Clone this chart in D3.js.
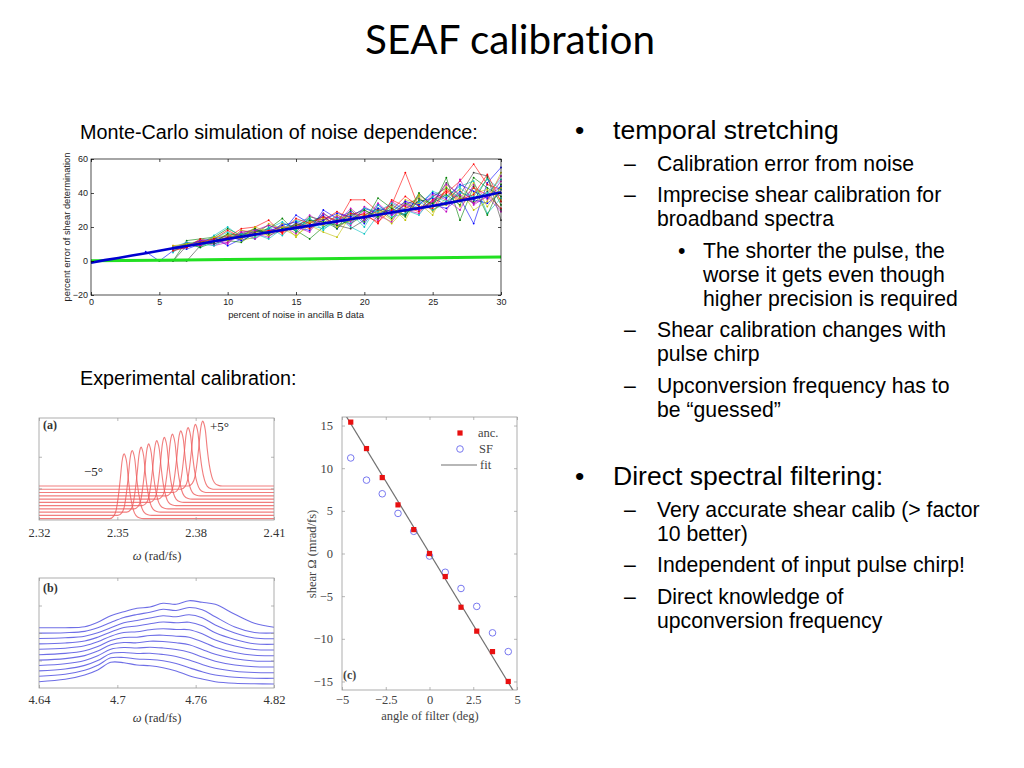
<!DOCTYPE html>
<html>
<head>
<meta charset="utf-8">
<script src="https://cdn.jsdelivr.net/npm/d3@7"></script>
<style>
  body { margin: 0; background: #fff; }
  svg { display: block; }
  text { font-variant-ligatures: none; font-feature-settings: "liga" 0, "clig" 0; }
</style>
</head>
<body>
<svg id="slide" width="1024" height="768"></svg>
<script>
// ---------- Monte-Carlo panel ----------
const mcXTicks = [0, 5, 10, 15, 20, 25, 30];
const mcYTicks = [-20, 0, 20, 40, 60];
// matlab default colour order
const mcColors = ["#0000ff", "#008000", "#ff0000", "#00bfbf", "#bf00bf", "#bfbf00", "#404040"];
// first noise value of each run
const mcStart = [4, 5, 6, 6, 6, 6, 6, 6, 6, 6, 6, 6, 6, 6, 6, 6, 6, 6, 6, 6];
const mcRuns = [
  [5.5, 0, 6, 9, 11, 10, 13, 16, 15, 19, 17, 27, 22, 27, 19, 26, 31, 28, 30, 27, 39, 33, 31, 37, 22, 46, 55],
  [0, 0, 12, 13, 14, 19, 15, 18, 17, 20, 18, 13, 20, 24, 22, 27, 31, 25, 34, 30, 38, 43, 37, 35, 49, 33],
  [8, 10, 9, 12, 15, 13, 17, 18, 17, 21, 20, 25, 22, 36, 36, 29, 33, 52, 31, 35, 40, 47, 57, 45, 42],
  [5, 11, 8, 13, 17, 14, 13, 20, 15, 23, 25, 18, 26, 20, 16, 27, 32, 29, 33, 41, 38, 44, 47, 28, 37],
  [7, 8, 12, 9, 11, 18, 16, 14, 21, 16, 24, 21, 27, 23, 29, 24, 35, 30, 28, 36, 29, 48, 33, 38, 50],
  [6, 10, 12, 11, 16, 12, 14, 22, 19, 15, 21, 17, 14, 27, 25, 30, 24, 36, 34, 27, 44, 32, 40, 42, 36],
  [0, 0, 9, 12, 14, 16, 19, 15, 18, 20, 23, 26, 21, 19, 24, 30, 28, 33, 37, 30, 35, 39, 52, 50, 24],
  [8, 7, 10, 14, 9, 13, 18, 16, 22, 20, 18, 30, 25, 29, 22, 33, 27, 31, 35, 37, 33, 41, 36, 34, 40],
  [7, 9, 11, 13, 12, 11, 17, 19, 25, 17, 26, 24, 19, 30, 23, 37, 31, 26, 40, 32, 49, 24, 44, 27, 45],
  [9, 8, 13, 11, 14, 19, 20, 24, 16, 22, 19, 24, 29, 25, 28, 22, 36, 32, 29, 36, 41, 35, 43, 39, 31],
  [6, 9, 10, 15, 20, 14, 16, 13, 19, 24, 21, 19, 23, 28, 20, 33, 26, 28, 35, 30, 34, 40, 38, 48, 42],
  [7, 11, 9, 12, 10, 17, 13, 18, 20, 19, 27, 22, 26, 21, 32, 27, 23, 35, 30, 39, 36, 30, 45, 36, 47],
  [7, 10, 11, 14, 12, 18, 17, 15, 22, 14, 23, 25, 20, 24, 27, 29, 22, 31, 38, 29, 37, 42, 30, 35, 52],
  [0, 9, 12, 10, 13, 15, 17, 21, 18, 22, 20, 28, 23, 27, 30, 25, 33, 29, 31, 34, 46, 38, 34, 41, 30],
  [8, 9, 12, 13, 15, 12, 16, 17, 21, 23, 20, 24, 28, 26, 25, 31, 29, 35, 33, 40, 37, 45, 41, 37, 44],
  [7, 10, 8, 11, 16, 15, 19, 16, 19, 21, 24, 23, 21, 24, 30, 26, 31, 27, 36, 34, 39, 33, 49, 43, 38],
  [6, 8, 11, 13, 18, 14, 15, 18, 17, 25, 22, 26, 24, 28, 27, 23, 30, 38, 32, 31, 42, 36, 39, 51, 35],
  [8, 11, 10, 9, 13, 16, 14, 19, 23, 18, 25, 20, 25, 22, 31, 29, 34, 30, 27, 38, 35, 43, 37, 40, 48],
  [7, 9, 12, 12, 11, 17, 18, 21, 18, 20, 17, 28, 22, 31, 24, 34, 27, 33, 30, 35, 45, 39, 34, 38, 29],
  [9, 10, 10, 14, 15, 13, 20, 17, 20, 19, 23, 21, 27, 24, 26, 28, 32, 24, 39, 32, 33, 37, 46, 32, 43]
];
// mean error, noise 0..30
const mcMean = [-1, 0.5, 1.8, 3.2, 4.6, 6.0, 7.5, 8.8, 10.2, 11.6, 13.0, 14.3, 15.6, 16.9, 18.2, 19.5,
  20.8, 22.1, 23.3, 24.6, 25.9, 27.2, 28.5, 29.8, 31.1, 32.4, 33.9, 35.4, 37.0, 38.7, 40.5];
const mcLowX = [0, 5, 10, 15, 20, 25, 30];
const mcLow = [0.2, 0.5, 0.9, 1.2, 1.6, 1.9, 2.3];

// ---------- panel (a): ancilla spectra ----------
const aXTicks = [2.32, 2.35, 2.38, 2.41];
const aCenters = [2.3526, 2.3557, 2.3591, 2.3620, 2.3651, 2.3680, 2.3711, 2.3743, 2.3771, 2.3799, 2.3827];
const aOffsets = [0.013, 0.045, 0.077, 0.109, 0.141, 0.173, 0.205, 0.237, 0.269, 0.301, 0.333];
const aAmp = 0.637;
const aProfileDx = [-0.0055, -0.004, -0.003, -0.0022, -0.0015, -0.0008, -0.0003, 0, 0.0004, 0.001, 0.0017, 0.0025, 0.0035, 0.0045, 0.006, 0.0075];
const aProfile = [0, 0.04, 0.14, 0.35, 0.6, 0.88, 0.98, 1, 0.97, 0.86, 0.58, 0.33, 0.14, 0.05, 0.01, 0];

// ---------- panel (b): filtered spectra ----------
const bXTicks = [4.64, 4.7, 4.76, 4.82];
const bX = [4.64, 4.66, 4.675, 4.685, 4.695, 4.705, 4.715, 4.725, 4.735, 4.745, 4.755, 4.765, 4.775, 4.79, 4.805, 4.82];
const bCurves = [
  [0.63, 0.87, 1.30, 1.80, 2.57, 2.53, 2.30, 2.23, 2.03, 1.70, 1.23, 0.90, 0.63, 0.47, 0.42, 0.40],
  [1.17, 1.38, 1.78, 2.28, 3.02, 3.05, 2.90, 2.85, 2.72, 2.45, 2.02, 1.62, 1.30, 1.08, 0.98, 0.97],
  [1.71, 1.90, 2.26, 2.75, 3.45, 3.55, 3.45, 3.48, 3.35, 3.15, 2.80, 2.35, 1.98, 1.68, 1.55, 1.53],
  [2.25, 2.42, 2.75, 3.22, 3.88, 4.05, 4.00, 4.08, 4.00, 3.85, 3.58, 3.10, 2.68, 2.30, 2.12, 2.10],
  [2.79, 2.94, 3.24, 3.70, 4.32, 4.55, 4.52, 4.68, 4.65, 4.52, 4.33, 3.85, 3.38, 2.92, 2.70, 2.67],
  [3.33, 3.46, 3.73, 4.15, 4.75, 5.05, 5.08, 5.25, 5.28, 5.18, 5.08, 4.62, 4.08, 3.55, 3.27, 3.23],
  [3.87, 3.98, 4.22, 4.62, 5.18, 5.55, 5.62, 5.82, 5.92, 5.85, 5.83, 5.42, 4.80, 4.20, 3.85, 3.80],
  [4.41, 4.50, 4.70, 5.08, 5.60, 6.05, 6.20, 6.42, 6.60, 6.52, 6.58, 6.22, 5.52, 4.85, 4.42, 4.37],
  [4.95, 5.02, 5.18, 5.52, 6.02, 6.52, 6.75, 7.00, 7.22, 7.12, 7.32, 7.02, 6.30, 5.50, 5.00, 4.93],
  [5.49, 5.53, 5.66, 6.02, 6.55, 7.05, 7.35, 7.58, 7.88, 7.75, 8.05, 7.82, 7.12, 6.10, 5.55, 5.50],
  [6.03, 6.03, 6.13, 6.57, 7.23, 7.63, 7.97, 8.10, 8.47, 8.37, 8.73, 8.57, 8.37, 7.37, 6.47, 6.07]
];

// ---------- panel (c): shear vs filter angle ----------
const cXTicks = [-5, -2.5, 0, 2.5, 5];
const cYTicks = [-15, -10, -5, 0, 5, 10, 15];
const cAngle = [-4.5, -3.6, -2.7, -1.8, -0.9, 0, 0.9, 1.8, 2.7, 3.6, 4.5];
const cAnc = [15.4, 12.3, 8.9, 5.7, 2.8, 0, -2.7, -6.3, -9.1, -11.5, -15.0];
const cSF = [11.2, 8.6, 7.0, 4.7, 2.6, -0.3, -2.2, -4.1, -6.2, -9.3, -11.5];
const cFitSlope = -3.37;
const cFitIntercept = 0.05;

// ---------- slide text ----------
const bulletItems = [
  { level: 1, lines: ["temporal stretching"] },
  { level: 2, lines: ["Calibration error from noise"] },
  { level: 2, lines: ["Imprecise shear calibration for", "broadband spectra"] },
  { level: 3, lines: ["The shorter the pulse, the", "worse it gets even though", "higher precision is required"] },
  { level: 2, lines: ["Shear calibration changes with", "pulse chirp"] },
  { level: 2, lines: ["Upconversion frequency has to", "be \u201cguessed\u201d"] },
  { level: 1, lines: ["Direct spectral filtering:"], gap: true },
  { level: 2, lines: ["Very accurate shear calib (> factor", "10 better)"] },
  { level: 2, lines: ["Independent of input pulse chirp!"] },
  { level: 2, lines: ["Direct knowledge of", "upconversion frequency"] }
];

const SANS = "'Liberation Sans', Arial, sans-serif";
const SERIF = "'Liberation Serif', 'DejaVu Serif', serif";
const LATO = "Lato, 'Open Sans', sans-serif";

const svg = d3.select("#slide");
svg.append("rect").attr("width", 1024).attr("height", 768).attr("fill", "#fff");

// font size that gives str the wanted width
function sizeFor(str, family, target) {
  let t = svg.append("text").attr("font-family", family).attr("font-size", 40).text(str);
  let w = t.node().getComputedTextLength();
  t.remove();
  return 40 * target / w;
}

function styleAxis(g, family, size, color) {
  g.select(".domain").remove();
  g.attr("font-family", family).attr("font-size", size);
  g.selectAll("line").attr("stroke", color).attr("stroke-width", 0.7);
  g.selectAll("text").attr("fill", color);
}

// draws inward ticks on all four sides of a framed plot
function frame(g, x, y, xTicks, yTicks, opts) {
  let [x0, x1] = x.range();
  let [y0, y1] = y.range();
  g.append("rect")
    .attr("x", x0).attr("y", y1)
    .attr("width", x1 - x0).attr("height", y0 - y1)
    .attr("fill", "none").attr("stroke", opts.color).attr("stroke-width", opts.width || 0.8);

  let bottom = g.append("g").attr("transform", "translate(0," + y0 + ")")
    .call(d3.axisBottom(x).tickValues(xTicks).tickSizeInner(-opts.tick).tickSizeOuter(0)
      .tickPadding(opts.xPad).tickFormat(opts.xFormat));
  styleAxis(bottom, opts.family, opts.size, opts.textColor);
  let top = g.append("g").attr("transform", "translate(0," + y1 + ")")
    .call(d3.axisTop(x).tickValues(xTicks).tickSizeInner(-opts.tick).tickSizeOuter(0).tickFormat(""));
  styleAxis(top, opts.family, opts.size, opts.color);

  let left = g.append("g").attr("transform", "translate(" + x0 + ",0)")
    .call(d3.axisLeft(y).tickValues(yTicks).tickSizeInner(-opts.tick).tickSizeOuter(0)
      .tickPadding(opts.yPad).tickFormat(opts.yFormat));
  styleAxis(left, opts.family, opts.size, opts.textColor);
  let right = g.append("g").attr("transform", "translate(" + x1 + ",0)")
    .call(d3.axisRight(y).tickValues(yTicks).tickSizeInner(-opts.tick).tickSizeOuter(0).tickFormat(""));
  styleAxis(right, opts.family, opts.size, opts.color);
  [bottom, top, left, right].forEach(a => a.selectAll("line").attr("stroke", opts.color));
}

function clipTo(id, x, y) {
  let [x0, x1] = x.range();
  let [y0, y1] = y.range();
  svg.append("clipPath").attr("id", id).append("rect")
    .attr("x", x0).attr("y", y1).attr("width", x1 - x0).attr("height", y0 - y1);
}

function drawTitle() {
  let str = "SEAF calibration";
  svg.append("text")
    .attr("x", 510).attr("y", 54)
    .attr("text-anchor", "middle")
    .attr("font-family", LATO)
    .attr("font-size", sizeFor(str, LATO, 290))
    .text(str);

  let s1 = "Monte-Carlo simulation of noise dependence:";
  let fs = sizeFor(s1, SANS, 398);
  svg.append("text").attr("x", 80).attr("y", 139)
    .attr("font-family", SANS).attr("font-size", fs).text(s1);
  svg.append("text").attr("x", 80).attr("y", 385)
    .attr("font-family", SANS).attr("font-size", fs).text("Experimental calibration:");
}

function drawMonteCarlo() {
  let x = d3.scaleLinear().domain([0, 30]).range([91, 501]);
  let y = d3.scaleLinear().domain([-20, 60]).range([295, 159]);
  let g = svg.append("g");
  let line = d3.line().x(d => x(d[0])).y(d => y(d[1]));

  mcRuns.forEach((run, i) => {
    let pts = run.map((v, j) => [mcStart[i] + j, v]);
    let color = mcColors[i % mcColors.length];
    g.append("path")
      .attr("d", line(pts))
      .attr("fill", "none")
      .attr("stroke", color)
      .attr("stroke-width", 0.6);
    g.append("g").selectAll("circle")
      .data(pts)
      .enter().append("circle")
      .attr("cx", d => x(d[0]))
      .attr("cy", d => y(d[1]))
      .attr("r", 0.9)
      .attr("fill", color);
  });

  g.append("path")
    .attr("d", line(mcLowX.map((v, j) => [v, mcLow[j]])))
    .attr("fill", "none").attr("stroke", "#22e022").attr("stroke-width", 3);
  g.append("path")
    .attr("d", line(mcMean.map((v, j) => [j, v])))
    .attr("fill", "none").attr("stroke", "#0000d0").attr("stroke-width", 2.6);

  frame(g, x, y, mcXTicks, mcYTicks, {
    color: "#000", textColor: "#222", width: 0.7, tick: 3,
    family: SANS, size: 9, xPad: 4, yPad: 3
  });

  let xl = "percent of noise in ancilla B data";
  g.append("text").attr("x", 296).attr("y", 318).attr("text-anchor", "middle")
    .attr("font-family", SANS).attr("font-size", sizeFor(xl, SANS, 136)).attr("fill", "#222").text(xl);
  let yl = "percent error of shear determination";
  g.append("text").attr("transform", "translate(70,227) rotate(-90)").attr("text-anchor", "middle")
    .attr("font-family", SANS).attr("font-size", sizeFor(yl, SANS, 149)).attr("fill", "#222").text(yl);
}

function omegaLabel(g, cx, by) {
  let t = g.append("text").attr("x", cx).attr("y", by).attr("text-anchor", "middle")
    .attr("font-family", SERIF).attr("font-size", 12.5).attr("fill", "#333");
  t.append("tspan").attr("font-style", "italic").text("\u03c9");
  t.append("tspan").text(" (rad/fs)");
}

function drawPanelA() {
  let x = d3.scaleLinear().domain([2.32, 2.41]).range([39, 274]);
  let y = d3.scaleLinear().domain([0, 1]).range([520, 418]);
  let g = svg.append("g");
  clipTo("clipA", x, y);
  let line = d3.line().x(d => x(d[0])).y(d => y(d[1])).curve(d3.curveMonotoneX);

  let curves = g.append("g").attr("clip-path", "url(#clipA)");
  aCenters.forEach((c, i) => {
    let base = aOffsets[i];
    let pts = [[2.32, base]]
      .concat(aProfileDx.map((dx, j) => [c + dx, base + aAmp * aProfile[j]]))
      .concat([[2.41, base]]);
    curves.append("path")
      .attr("d", line(pts))
      .attr("fill", "none")
      .attr("stroke", "#ee5c5c")
      .attr("stroke-opacity", 0.8)
      .attr("stroke-width", 1.1);
  });

  frame(g, x, y, aXTicks, [0.31, 0.62], {
    color: "#9a9a9a", textColor: "#333", width: 0.8, tick: 3,
    family: SERIF, size: 12.5, xPad: 8, yPad: 3,
    xFormat: d3.format(".2f"), yFormat: ""
  });
  omegaLabel(g, 157, 560);

  g.append("text").attr("x", 43).attr("y", 429).attr("font-family", SERIF).attr("font-size", 12)
    .attr("font-weight", "bold").attr("fill", "#333").text("(a)");
  g.append("text").attr("x", 210).attr("y", 431).attr("font-family", SERIF).attr("font-size", 13)
    .attr("fill", "#222").text("+5\u00b0");
  g.append("text").attr("x", 84).attr("y", 476).attr("font-family", SERIF).attr("font-size", 13)
    .attr("fill", "#222").text("\u22125\u00b0");
}

function drawPanelB() {
  let x = d3.scaleLinear().domain([4.64, 4.82]).range([39, 274]);
  let y = d3.scaleLinear().domain([0, 11]).range([688, 578]);
  let g = svg.append("g");
  let line = d3.line().x(d => x(d[0])).y(d => y(d[1])).curve(d3.curveCatmullRom);

  bCurves.forEach(vals => {
    g.append("path")
      .attr("d", line(vals.map((v, j) => [bX[j], v])))
      .attr("fill", "none")
      .attr("stroke", "#5555e2")
      .attr("stroke-opacity", 0.85)
      .attr("stroke-width", 1.1);
  });

  frame(g, x, y, bXTicks, [2.75, 5.5, 8.25], {
    color: "#9a9a9a", textColor: "#333", width: 0.8, tick: 3,
    family: SERIF, size: 12.5, xPad: 7.5, yPad: 3,
    xFormat: d => d3.format("")(+d.toFixed(2)), yFormat: ""
  });
  omegaLabel(g, 157, 722);

  g.append("text").attr("x", 43).attr("y", 592).attr("font-family", SERIF).attr("font-size", 12)
    .attr("font-weight", "bold").attr("fill", "#333").text("(b)");
}

function drawPanelC() {
  let x = d3.scaleLinear().domain([-5, 5]).range([342, 517]);
  let y = d3.scaleLinear().domain([-16, 16]).range([690, 417]);
  let g = svg.append("g");
  clipTo("clipC", x, y);

  let pts = cAngle.map((a, i) => ({ a: a, anc: cAnc[i], sf: cSF[i] }));

  g.append("g").selectAll("circle")
    .data(pts)
    .enter().append("circle")
    .attr("cx", d => x(d.a))
    .attr("cy", d => y(d.sf))
    .attr("r", 3.3)
    .attr("fill", "none")
    .attr("stroke", "#7878f0")
    .attr("stroke-width", 1);

  g.append("line")
    .attr("clip-path", "url(#clipC)")
    .attr("x1", x(-5)).attr("y1", y(cFitSlope * -5 + cFitIntercept))
    .attr("x2", x(5)).attr("y2", y(cFitSlope * 5 + cFitIntercept))
    .attr("stroke", "#707070").attr("stroke-width", 1.2);

  g.append("g").selectAll("rect")
    .data(pts)
    .enter().append("rect")
    .attr("x", d => x(d.a) - 2.6)
    .attr("y", d => y(d.anc) - 2.6)
    .attr("width", 5.2)
    .attr("height", 5.2)
    .attr("fill", "#e81010");

  let fmt = d => d < 0 ? "\u2212" + Math.abs(d) : "" + d;
  frame(g, x, y, cXTicks, cYTicks, {
    color: "#9a9a9a", textColor: "#444", width: 0.8, tick: 3,
    family: SERIF, size: 12.5, xPad: 5.5, yPad: 9,
    xFormat: fmt, yFormat: fmt
  });

  // legend
  let lg = g.append("g").attr("font-family", SERIF).attr("font-size", 12.5).attr("fill", "#444");
  lg.append("rect").attr("x", 457.4).attr("y", 430.4).attr("width", 5.2).attr("height", 5.2).attr("fill", "#e81010");
  lg.append("text").attr("x", 478).attr("y", 437).text("anc.");
  lg.append("circle").attr("cx", 460).attr("cy", 449).attr("r", 3.3)
    .attr("fill", "none").attr("stroke", "#7878f0").attr("stroke-width", 1);
  lg.append("text").attr("x", 479).attr("y", 453).text("SF");
  lg.append("line").attr("x1", 441).attr("x2", 477).attr("y1", 465).attr("y2", 465)
    .attr("stroke", "#707070").attr("stroke-width", 1.2);
  lg.append("text").attr("x", 480).attr("y", 469).text("fit");

  g.append("text").attr("x", 343).attr("y", 679).attr("font-family", SERIF).attr("font-size", 12)
    .attr("font-weight", "bold").attr("fill", "#444").text("(c)");

  g.append("text").attr("x", 430).attr("y", 720).attr("text-anchor", "middle")
    .attr("font-family", SERIF).attr("font-size", 12.5).attr("fill", "#444").text("angle of filter (deg)");
  g.append("text").attr("transform", "translate(316,554) rotate(-90)").attr("text-anchor", "middle")
    .attr("font-family", SERIF).attr("font-size", 12.5).attr("fill", "#444").text("shear \u03a9 (mrad/fs)");
}

function drawBullets() {
  let lineGap = 24;
  // keep wrapped lines from touching: liberation sans box is ~1.117em tall
  let s1 = sizeFor("temporal stretching", SANS, 226);
  let s2 = Math.min(sizeFor("Calibration error from noise", SANS, 288), lineGap / 1.13);
  let levels = {
    1: { mark: "\u2022", mx: 575, tx: 613, size: s1 },
    2: { mark: "\u2013", mx: 624, tx: 657, size: s2 },
    3: { mark: "\u2022", mx: 678, tx: 703, size: s2 }
  };
  let g = svg.append("g").attr("font-family", SANS).attr("fill", "#000");
  let yPos = 139;
  bulletItems.forEach((item, i) => {
    if (i > 0) yPos += 31.5 + (item.gap ? 37 : 0);
    let lv = levels[item.level];
    g.append("text").attr("x", lv.mx).attr("y", yPos).attr("font-size", lv.size).text(lv.mark);
    let t = g.append("text").attr("x", lv.tx).attr("y", yPos).attr("font-size", lv.size);
    item.lines.forEach((ln, k) => {
      t.append("tspan").attr("x", lv.tx).attr("dy", k === 0 ? 0 : lineGap).text(ln);
    });
    yPos += lineGap * (item.lines.length - 1);
  });
}

drawTitle();
drawMonteCarlo();
drawPanelA();
drawPanelB();
drawPanelC();
drawBullets();
</script>
</body>
</html>
